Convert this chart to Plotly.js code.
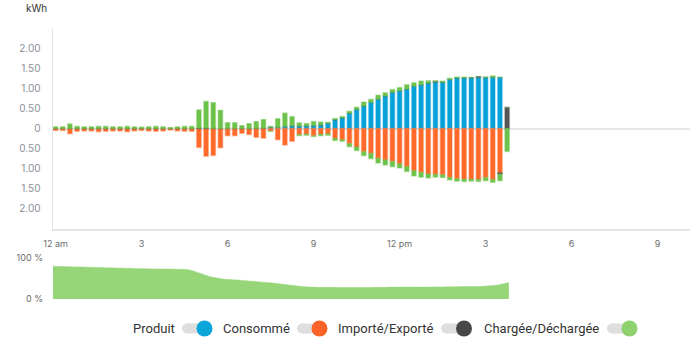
<!DOCTYPE html>
<html><head><meta charset="utf-8">
<script src="https://cdn.plot.ly/plotly-3.0.1.min.js"></script>
<style>html,body{margin:0;padding:0;background:#fff}#chart{width:690px;height:355px}</style>
</head><body><div id="chart"></div>
<script>
// ---- data (15-minute slots, kWh) ----
const slots = [
 "00:00","00:15","00:30","00:45","01:00","01:15","01:30","01:45",
 "02:00","02:15","02:30","02:45","03:00","03:15","03:30","03:45",
 "04:00","04:15","04:30","04:45","05:00","05:15","05:30","05:45",
 "06:00","06:15","06:30","06:45","07:00","07:15","07:30","07:45",
 "08:00","08:15","08:30","08:45","09:00","09:15","09:30","09:45",
 "10:00","10:15","10:30","10:45","11:00","11:15","11:30","11:45",
 "12:00","12:15","12:30","12:45","13:00","13:15","13:30","13:45",
 "14:00","14:15","14:30","14:45","15:00","15:15","15:30","15:45"];

const produced = [
 0,0,0,0,0,0,0,0,0,0,
 0,0,0,0,0,0,0,0,0,0,
 0,0,0,0,0,0,0,0,0,
 0.01,0.03,0.03,0.05,0.07,0.06,0.07,0.075,0.09,0.13,0.22,
 0.27,0.38,0.475,0.56,0.65,0.73,0.81,0.90,0.94,0.98,
 1.05,1.09,1.13,1.15,1.15,1.22,1.26,1.26,1.26,1.27,
 1.27,1.275,1.27,0];

const consumed = [
 0.05,0.05,0.13,0.07,0.06,0.06,0.08,0.07,0.06,0.06,
 0.08,0.06,0.05,0.06,0.07,0.06,0.04,0.06,0.07,0.07,
 0.47,0.69,0.67,0.48,0.18,0.18,0.12,0.15,0.22,0.24,
 0.06,0.28,0.41,0.32,0.15,0.14,0.18,0.14,0.13,0.24,
 0.28,0.375,0.46,0.575,0.62,0.74,0.78,0.82,0.88,0.95,
 1.05,1.09,1.13,1.14,1.15,1.22,1.25,1.26,1.26,1.27,
 1.22,1.27,1.10,0];

const gridImport = [
 0,0,0,0,0,0,0,0,0,0,
 0,0,0,0,0,0,0,0,0,0,
 0.01,0.01,0,0,0,0,0,0,0,0,
 0,0,0,0,0,0,0,0,0,0,
 0,0,0,0,0,0,0,0,0,0,
 0,0,0,0.02,0,0,0,0,0,0.02,
 0,0,0,0.52];

const gridExport = [
 0,0,0,0,0,0,0,0,0,0,
 0,0,0,0,0,0,0,0,0,0,
 0,0,0,0,0,0,0,0,0,0,
 0,0,0,0,0,0,0,0,0,0,
 0,0,0,0,0,0,0,0,0,0,
 0,0,0,0,0,0,0,0,0,0,
 0,0,0.04,0];

const battDischarge = [
 0.04,0.04,0.11,0.05,0.04,0.04,0.05,0.05,0.04,0.04,
 0.05,0.04,0.03,0.04,0.05,0.04,0.02,0.04,0.05,0.05,
 0.45,0.66,0.64,0.45,0.14,0.14,0.07,0.12,0.17,0.21,
 0.02,0.21,0.33,0.22,0.08,0.055,0.10,0.07,0.02,0.03,
 0.03,0.05,0.055,0.10,0.075,0.10,0.08,0.07,0.08,0.11,
 0.09,0.09,0.06,0.02,0.03,0.03,0.02,0.02,0.01,0,
 0.01,0.035,0,0];

const battCharge = [
 0,0,0,0,0,0,0,0,0,0,
 0,0,0,0,0,0,0,0,0,0,
 0,0,0,0,0,0,0,0,0,0,
 0.01,0,0,0,0.03,0.03,0.02,0.04,0.04,0.06,
 0.04,0.08,0.09,0.10,0.13,0.12,0.13,0.13,0.10,0.12,
 0.13,0.12,0.10,0.07,0.07,0.06,0.06,0.06,0.05,0.05,
 0.08,0.07,0.16,0.57];

// battery state of charge (%)
const socTimes = ["00:00","01:00","02:00","03:00","04:00","04:45","05:15","05:30","06:00","06:30","07:00","07:30","08:00","08:30","09:00","10:00","11:00","12:00","13:00","14:00","15:00","15:30","15:54"];
const socValues = [80,78,76,74,73,71,60,54,48,46,43,40,36,32,29,28,28,29,29,30,31,34,40];

const xTickVals = [0,3,6,9,12,15,18,21];
const xTickText = ["12 am","3","6","9","12 pm","3","6","9"];
const yTickVals = [2,1.5,1,0.5,0,-0.5,-1,-1.5,-2];
const yTickText = ["2.00","1.50","1.00","0.50","0","0.50","1.00","1.50","2.00"];
const legendNames = ["Produit","Consommé","Importé/Exporté","Chargée/Déchargée"];

// ---- helpers ----
const toH = s => { const [h,m] = s.split(":").map(Number); return h + m/60; };
const xs = slots.map(toH);
const neg = a => a.map(v => -v);

const BLUE = "#05a1d9", ORANGE = "#ff6a2a", GREEN = "#6cc24a", GRAY = "#555555";
const edge = c => ({color: c, width: 1.5});
const BW = 0.155;

function bar(name, y, color, edgeColor) {
  return {type:"bar", x: xs, y: y, name: name, width: BW,
    marker:{color: color, line: edge(edgeColor)}, hoverinfo:"skip", showlegend:false};
}

const traces = [
  bar("Produit", produced, BLUE, "rgba(5,161,217,0.35)"),
  bar("Consommé", neg(consumed), ORANGE, "rgba(255,106,42,0.35)"),
  bar("Importé", gridImport, GRAY, "rgba(85,85,85,0.35)"),
  bar("Exporté", neg(gridExport), GRAY, "rgba(85,85,85,0.35)"),
  bar("Déchargée", battDischarge, GREEN, "rgba(108,194,74,0.35)"),
  bar("Chargée", neg(battCharge), GREEN, "rgba(108,194,74,0.35)"),
  {type:"scatter", mode:"lines", x: socTimes.map(toH), y: socValues, xaxis:"x2", yaxis:"y2",
   fill:"tozeroy", fillcolor:"#96d578", line:{color:"#96d578", width:0.5, shape:"spline", smoothing:0.6},
   hoverinfo:"skip", showlegend:false}
];

// paper conversion (plot area: x 53..690, y 28..299 px)
const L = 53, R = 690, T = 28, B = 299;
const px = v => (v - L) / (R - L);
const py = v => (B - v) / (B - T);

const FONT = "Inter, 'Open Sans', sans-serif";
const LFONT = "Roboto, 'Liberation Sans', sans-serif";
const legendItems = [
  {textRight:177, trackL:182, cx:204.5, color:"#0aa6da"},
  {textRight:292, trackL:297, cx:319.5, color:"#fb6428"},
  {textRight:435, trackL:441, cx:464, color:"#474747"},
  {textRight:601, trackL:607, cx:629.5, color:"#8fd16f"}
];
const LY = 328.5;
const shapes = [], annotations = [];
legendItems.forEach((it, i) => {
  shapes.push({type:"rect", xref:"paper", yref:"paper", x0:px(it.trackL+5), x1:px(it.cx), y0:py(LY+5), y1:py(LY-5),
    fillcolor:"#dedede", line:{width:0}});
  shapes.push({type:"circle", xref:"paper", yref:"paper", x0:px(it.trackL), x1:px(it.trackL+10), y0:py(LY+5), y1:py(LY-5),
    fillcolor:"#dedede", line:{width:0}});
  shapes.push({type:"circle", xref:"paper", yref:"paper", x0:px(it.cx-8), x1:px(it.cx+8), y0:py(LY+8), y1:py(LY-8),
    fillcolor:it.color, line:{width:0}});
  annotations.push({xref:"paper", yref:"paper", x:px(it.textRight), y:py(LY), xanchor:"right", yanchor:"middle",
    text:legendNames[i], showarrow:false, font:{family:LFONT, size:13, color:"#333"}});
});
annotations.push({xref:"paper", yref:"paper", x:px(36), y:py(8), xanchor:"center", yanchor:"middle",
  text:"kWh", showarrow:false, font:{family:FONT, size:10, color:"#333"}});

const layout = {
  width:690, height:355,
  margin:{l:L, r:0, t:T, b:355-B},
  paper_bgcolor:"#fff", plot_bgcolor:"#fff",
  barmode:"relative",
  showlegend:false,
  font:{family:FONT},
  xaxis:{domain:[0,1], anchor:"y", range:[-0.09, 22.13], tickvals:xTickVals, ticktext:xTickText,
    tickfont:{size:9, color:"#6b6b6b"}, showgrid:false, zeroline:false,
    showline:true, linecolor:"#e4e4e4", linewidth:1.5, ticks:"outside", ticklen:6, tickcolor:"rgba(0,0,0,0)"},
  yaxis:{domain:[(B-229)/(B-T), 1], anchor:"x", range:[-2.5,2.5], tickvals:yTickVals, ticktext:yTickText,
    tickfont:{size:10, color:"#8b9099"}, showgrid:false, showline:true, linecolor:"#e4e4e4", linewidth:1.5,
    zeroline:true, zerolinecolor:"#e6e6e6", zerolinewidth:2, ticks:"", ticklabelstandoff:9},
  xaxis2:{domain:[0,1], anchor:"y2", range:[0,22.22], showticklabels:false, showgrid:false, zeroline:false, showline:false},
  yaxis2:{domain:[0, (B-258)/(B-T)], anchor:"x2", range:[0,100], tickvals:[0,100], ticktext:["0 %","100 %"],
    tickfont:{size:9, color:"#6b6b6b"}, showgrid:true, gridcolor:"#e4e4e4", gridwidth:1.5, zeroline:false,
    showline:false, ticks:"", ticklabelstandoff:9},
  shapes: shapes,
  annotations: annotations
};

Plotly.newPlot("chart", traces, layout, {staticPlot:true, displayModeBar:false});
</script>
</body></html>
